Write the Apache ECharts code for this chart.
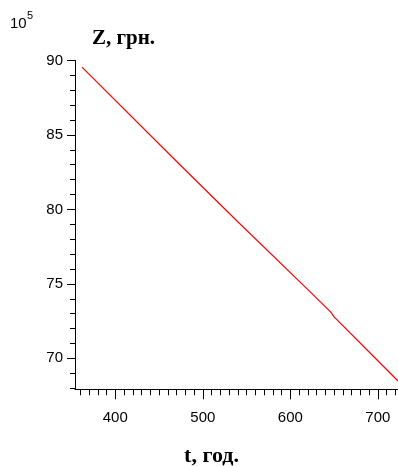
<!DOCTYPE html>
<html><head><meta charset="utf-8">
<script src="https://cdn.jsdelivr.net/npm/echarts@6/dist/echarts.min.js"></script>
<style>html,body{margin:0;padding:0;background:#fff}#c{width:398px;height:466px}</style>
</head><body><div id="c"></div>
<script>
// Data
const tYears = [362, 473, 540, 623, 646, 650, 723];
const zValues = [89.56, 83.05, 79.17, 74.45, 73.12, 72.78, 68.48];
const xTickLabels = [400, 500, 600, 700];
const xMinorTicks = [360, 370, 380, 390, 410, 420, 430, 440, 450, 460, 470, 480, 490, 510, 520, 530, 540, 550, 560, 570, 580, 590, 610, 620, 630, 640, 650, 660, 670, 680, 690, 710, 720];
const yTickLabels = [70, 75, 80, 85, 90];
const yMinorTicks = [68, 69, 71, 72, 73, 74, 76, 77, 78, 79, 81, 82, 83, 84, 86, 87, 88, 89];
const xRange = [354, 723];
const yRange = [67.92, 90];

const seriesData = tYears.map((t, i) => [t, zValues[i]]);
const sans = 'Liberation Sans, Arial, sans-serif';
const serif = 'Liberation Serif, Times New Roman, serif';
const axisColor = '#000';

const chart = echarts.init(document.getElementById('c'), null, {renderer: 'canvas'});
chart.setOption({
  animation: false,
  backgroundColor: '#fff',
  grid: {left: 75, top: 60.5, right: 0, bottom: 76.7, containLabel: false, outerBoundsMode: 'none'},
  graphic: [
    {type: 'text', left: 10, top: 16, style: {text: '10', font: '15px ' + sans, fill: '#000'}},
    {type: 'text', left: 27, top: 10, style: {text: '5', font: '11px ' + sans, fill: '#000'}}
  ],
  xAxis: [
    {
      type: 'value', min: xRange[0], max: xRange[1], position: 'bottom',
      name: 't, год.', nameLocation: 'middle', nameGap: 56,
      nameTextStyle: {fontFamily: serif, fontWeight: 'bold', fontSize: 22, color: '#000', verticalAlign: 'top', padding: [0, 50, 0, 0]},
      axisLine: {show: true, lineStyle: {color: axisColor, width: 1}},
      axisTick: {show: true, length: 10, customValues: xTickLabels, lineStyle: {color: axisColor}},
      axisLabel: {show: true, customValues: xTickLabels, margin: 21, fontFamily: sans, fontSize: 15, color: '#000'},
      splitLine: {show: false}
    },
    {
      type: 'value', min: xRange[0], max: xRange[1], position: 'bottom',
      axisLine: {show: false},
      axisTick: {show: true, length: 6, customValues: xMinorTicks, lineStyle: {color: axisColor}},
      axisLabel: {show: false},
      splitLine: {show: false}
    }
  ],
  yAxis: [
    {
      type: 'value', min: yRange[0], max: yRange[1], position: 'left',
      name: 'Z, грн.', nameLocation: 'end', nameGap: 11,
      nameTextStyle: {fontFamily: serif, fontWeight: 'bold', fontSize: 21, color: '#000', align: 'left', verticalAlign: 'bottom', padding: [0, 0, 0, 17]},
      axisLine: {show: true, lineStyle: {color: axisColor, width: 1}},
      axisTick: {show: true, length: 8, customValues: yTickLabels, lineStyle: {color: axisColor}},
      axisLabel: {show: true, customValues: yTickLabels, margin: 12, fontFamily: sans, fontSize: 15, color: '#000'},
      splitLine: {show: false}
    },
    {
      type: 'value', min: yRange[0], max: yRange[1], position: 'left',
      axisLine: {show: false},
      axisTick: {show: true, length: 5, customValues: yMinorTicks, lineStyle: {color: axisColor}},
      axisLabel: {show: false},
      splitLine: {show: false}
    }
  ],
  series: [{
    type: 'line', xAxisIndex: 0, yAxisIndex: 0,
    data: seriesData, showSymbol: false, symbol: 'none',
    lineStyle: {color: '#ff0000', width: 1.2}, clip: true
  }]
});
</script>
</body></html>
